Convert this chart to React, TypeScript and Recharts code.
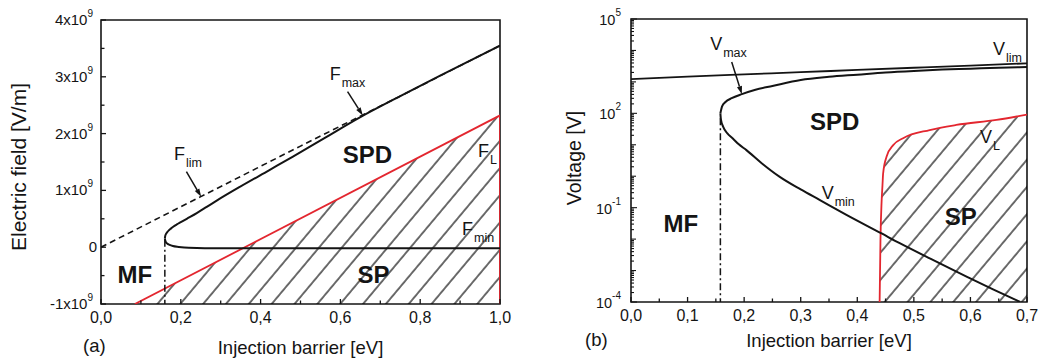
import React from 'react';
import {
  ComposedChart,
  Line,
  Area,
  XAxis,
  YAxis,
  ReferenceArea,
  ReferenceLine,
  ReferenceDot,
} from 'recharts';

const FONT = '"Liberation Sans", Arial, Helvetica, sans-serif';
const INK = '#141414';
const RED = '#e3262f';

// ---- (a) electric field [V/m] vs injection barrier [eV]
const xTicksA = [0, 0.1, 0.2, 0.3, 0.4, 0.5, 0.6, 0.7, 0.8, 0.9, 1.0];
const yTicksA = [-1e9, -0.5e9, 0, 0.5e9, 1e9, 1.5e9, 2e9, 2.5e9, 3e9, 3.5e9, 4e9];

const fLimX = [0, 0.25, 0.5, 0.75, 1.0];
const fLimY = [0, 0.89e9, 1.78e9, 2.66e9, 3.55e9];

const fMaxX = [0.16, 0.161, 0.163, 0.166, 0.17, 0.175, 0.181, 0.19, 0.2, 0.215, 0.24, 0.265, 0.29, 0.35, 0.42, 0.48, 0.56, 0.65, 0.75, 0.85, 1.0];
const fMaxY = [0.15e9, 0.2e9, 0.235e9, 0.265e9, 0.297e9, 0.327e9, 0.36e9, 0.4e9, 0.44e9, 0.5e9, 0.6e9, 0.71e9, 0.82e9, 1.07e9, 1.35e9, 1.59e9, 1.92e9, 2.29e9, 2.66e9, 3.02e9, 3.55e9];

const fMinX = [0.16, 0.162, 0.166, 0.172, 0.18, 0.195, 0.22, 0.3, 0.5, 0.7, 1.0];
const fMinY = [0.15e9, 0.1e9, 0.065e9, 0.04e9, 0.02e9, 0.005e9, -0.01e9, -0.02e9, -0.02e9, -0.02e9, -0.02e9];

const fLX = [0.085, 1.0];
const fLY = [-1e9, 2.32e9];
const fLEdgeX = [1.0, 1.0];
const fLEdgeY = [2.32e9, -1e9];

const mfEdgeAX = [0.16, 0.16];
const mfEdgeAY = [0.13e9, -1e9];

// ---- (b) voltage [V] vs injection barrier [eV], log axis
const xTicksB = [0, 0.05, 0.1, 0.15, 0.2, 0.25, 0.3, 0.35, 0.4, 0.45, 0.5, 0.55, 0.6, 0.65, 0.7];
const labelDecadesB = [-4, -1, 2, 5];

const vLimX = [0, 0.1, 0.2, 0.3, 0.4, 0.5, 0.6, 0.7];
const vLimY = [1230, 1480, 1740, 2040, 2400, 2820, 3310, 3890];

const vMaxX = [0.158, 0.161, 0.167, 0.178, 0.196, 0.22, 0.25, 0.3, 0.35, 0.4, 0.45, 0.5, 0.55, 0.6, 0.65, 0.7];
const vMaxY = [100, 166, 229, 302, 407, 562, 741, 1148, 1445, 1698, 1995, 2239, 2455, 2630, 2818, 2951];

const vMinX = [0.158, 0.159, 0.163, 0.17, 0.18, 0.19, 0.204, 0.23, 0.263, 0.3, 0.334, 0.38, 0.443, 0.475, 0.53, 0.594, 0.64, 0.682, 0.688];
const vMinY = [100, 63.1, 37.2, 23.4, 15.8, 10.5, 6.76, 2.69, 0.955, 0.38, 0.174, 0.0603, 0.0151, 0.00741, 0.00234, 0.000631, 0.000251, 0.000112, 0.0001];

const vLX = [0.4395, 0.441, 0.443, 0.4445, 0.4457, 0.4517, 0.4635, 0.481, 0.528, 0.575, 0.646, 0.7];
const vLY = [0.0001, 0.01, 0.158, 0.501, 1.23, 4.17, 9.77, 16.2, 29.5, 42.7, 61.7, 91.2];

const mfEdgeBX = [0.158, 0.158];
const mfEdgeBY = [70, 0.0001];

const pts = (xs: number[], ys: number[]) => xs.map((x, i) => ({ x, y: ys[i] }));

const yTicksB: number[] = [];
for (let k = -4; k < 5; k++) for (let m = 1; m < 10; m++) yTicksB.push(m * Math.pow(10, k));
yTicksB.push(1e5);

// annotations
const subLabelsA = [
  { x: 0.183, y: 1.54e9, main: 'F', sub: 'lim' },
  { x: 0.573, y: 2.95e9, main: 'F', sub: 'max' },
  { x: 0.945, y: 1.59e9, main: 'F', sub: 'L' },
  { x: 0.905, y: 0.22e9, main: 'F', sub: 'min' },
];
const regionsA = [
  { x: 0.668, y: 1.49e9, text: 'SPD' },
  { x: 0.683, y: -0.63e9, text: 'SP' },
  { x: 0.085, y: -0.63e9, text: 'MF' },
];
const arrowsA = [
  { x1: 0.214, y1: 1.33e9, x2: 0.251, y2: 0.89e9 },
  { x1: 0.618, y1: 2.74e9, x2: 0.656, y2: 2.32e9 },
];

const subLabelsB = [
  { x: 0.14, y: 10200, main: 'V', sub: 'max' },
  { x: 0.64, y: 7160, main: 'V', sub: 'lim' },
  { x: 0.617, y: 11.4, main: 'V', sub: 'L' },
  { x: 0.337, y: 0.19, main: 'V', sub: 'min' },
];
const regionsB = [
  { x: 0.36, y: 29.5, text: 'SPD' },
  { x: 0.583, y: 0.028, text: 'SP' },
  { x: 0.088, y: 0.017, text: 'MF' },
];
const arrowsB = [{ x1: 0.178, y1: 4270, x2: 0.196, y2: 407 }];

const commaFmt = (v: number) => v.toFixed(1).replace('.', ',');

function XTick(props: any) {
  const { x = 0, y = 0, payload, isMajor } = props;
  const v = payload?.value ?? 0;
  const major = isMajor(v);
  return (
    <g>
      <line x1={x} x2={x} y1={y} y2={y - (major ? 5 : 3.5)} stroke={INK} strokeWidth={1.3} />
      {major && (
        <text x={x} y={y + 19} textAnchor="middle" fontSize={16} fontFamily={FONT} fill={INK}>
          {commaFmt(v)}
        </text>
      )}
    </g>
  );
}

function YTickA(props: any) {
  const { x = 0, y = 0, payload } = props;
  const v = payload?.value ?? 0;
  const n = v / 1e9;
  const major = Math.abs(n - Math.round(n)) < 1e-6;
  return (
    <g>
      <line x1={x} x2={x + (major ? 5 : 3.5)} y1={y} y2={y} stroke={INK} strokeWidth={1.3} />
      {major && (
        <text x={n === 0 ? x - 4 : x - 8} y={y + 5} textAnchor="end" fontSize={15} fontFamily={FONT} fill={INK}>
          {n === 0 ? '0' : `${Math.round(n)}x10`}
          {n !== 0 && (
            <tspan fontSize={10} dy={-8}>
              9
            </tspan>
          )}
        </text>
      )}
    </g>
  );
}

function YTickB(props: any) {
  const { x = 0, y = 0, payload } = props;
  const v = payload?.value ?? 1;
  const lg = Math.log10(v);
  const decade = Math.abs(lg - Math.round(lg)) < 1e-6;
  const labelled = decade && labelDecadesB.includes(Math.round(lg));
  const len = labelled ? 6 : decade ? 5 : 3;
  return (
    <g>
      <line x1={x} x2={x + len} y1={y} y2={y} stroke={INK} strokeWidth={1.1} />
      {labelled && (
        <text x={x - 10} y={y + 6} textAnchor="end" fontSize={14.5} fontFamily={FONT} fill={INK}>
          10
          <tspan fontSize={10} dy={-9}>
            {Math.round(lg)}
          </tspan>
        </text>
      )}
    </g>
  );
}

function SubText({ cx, cy, main, sub }: any) {
  return (
    <text x={cx} y={cy} fontFamily={FONT} fontSize={18} fill={INK}>
      {main}
      <tspan fontSize={12.5} dx={1} dy={7}>
        {sub}
      </tspan>
    </text>
  );
}

function RegionText({ cx, cy, text }: any) {
  return (
    <text x={cx} y={cy} textAnchor="middle" fontFamily={FONT} fontSize={24} fontWeight="bold" fill={INK}>
      {text}
    </text>
  );
}

function ArrowShape(p: any) {
  const { x1, y1, x2, y2 } = p;
  const ang = Math.atan2(y2 - y1, x2 - x1);
  const L = 8;
  const W = 2.6;
  const bx = x2 - L * Math.cos(ang);
  const by = y2 - L * Math.sin(ang);
  const px = -Math.sin(ang) * W;
  const py = Math.cos(ang) * W;
  return (
    <g>
      <line x1={x1} y1={y1} x2={bx} y2={by} stroke={INK} strokeWidth={1.5} />
      <polygon points={`${x2},${y2} ${bx + px},${by + py} ${bx - px},${by - py}`} fill={INK} />
    </g>
  );
}

function Hatch({ id }: { id: string }) {
  return (
    <defs>
      <pattern id={id} patternUnits="userSpaceOnUse" width={17.5} height={20} patternTransform="rotate(40)">
        <line x1={1} y1={0} x2={1} y2={20} stroke="#000" strokeWidth={1.15} />
      </pattern>
    </defs>
  );
}

const lineProps = { dataKey: 'y', dot: false, activeDot: false, isAnimationActive: false } as const;

function PanelA() {
  return (
    <ComposedChart width={520} height={360} margin={{ top: 20, right: 20, bottom: 0, left: 0 }}>
      <Hatch id="hatchA" />
      <XAxis
        type="number"
        dataKey="x"
        domain={[0, 1]}
        ticks={xTicksA}
        interval={0}
        allowDataOverflow
        axisLine={false}
        tickLine={false}
        tickSize={0}
        tickMargin={0}
        height={56}
        tick={(p: any) => <XTick {...p} isMajor={(v: number) => Math.round(v * 10) % 2 === 0} />}
        label={(p: any) => {
          const vb = p.viewBox || { x: 101, y: 304, width: 399 };
          return (
            <g fontFamily={FONT} fill={INK}>
              <text x={vb.x - 18} y={vb.y + 48} fontSize={18.5}>
                (a)
              </text>
              <text x={vb.x + vb.width / 2} y={vb.y + 50} fontSize={18.5} textAnchor="middle">
                Injection barrier [eV]
              </text>
            </g>
          );
        }}
      />
      <YAxis
        type="number"
        dataKey="y"
        domain={[-1e9, 4e9]}
        ticks={yTicksA}
        interval={0}
        allowDataOverflow
        axisLine={false}
        tickLine={false}
        tickSize={0}
        tickMargin={0}
        width={101}
        tick={(p: any) => <YTickA {...p} />}
        label={(p: any) => {
          const vb = p.viewBox || { x: 0, y: 20, height: 284 };
          const cx = vb.x + 26;
          const cy = vb.y + vb.height / 2 + 5;
          return (
            <text x={cx} y={cy} transform={`rotate(-90 ${cx} ${cy})`} textAnchor="middle" fontSize={21} fontFamily={FONT} fill={INK}>
              Electric field [V/m]
            </text>
          );
        }}
      />
      <ReferenceArea x1={0} x2={1} y1={-1e9} y2={4e9} fill="none" stroke={INK} strokeWidth={1.6} />
      <Area
        data={pts(fLX, fLY)}
        dataKey="y"
        type="linear"
        baseValue={-1e9}
        fill="url(#hatchA)"
        fillOpacity={1}
        stroke={RED}
        strokeWidth={1.8}
        dot={false}
        activeDot={false}
        isAnimationActive={false}
      />
      <Line {...lineProps} data={pts(fLEdgeX, fLEdgeY)} type="linear" stroke={RED} strokeWidth={1.8} />
      <Line {...lineProps} data={pts(fLimX, fLimY)} type="linear" stroke={INK} strokeWidth={1.6} strokeDasharray="6 4" />
      <Line {...lineProps} data={pts(fMaxX, fMaxY)} type="monotone" stroke={INK} strokeWidth={2} />
      <Line {...lineProps} data={pts(fMinX, fMinY)} type="monotone" stroke={INK} strokeWidth={2} />
      <Line {...lineProps} data={pts(mfEdgeAX, mfEdgeAY)} type="linear" stroke={INK} strokeWidth={1.5} strokeDasharray="7 3 2 3" />
      {arrowsA.map((a, i) => (
        <ReferenceLine key={`aa${i}`} segment={[{ x: a.x1, y: a.y1 }, { x: a.x2, y: a.y2 }]} shape={(p: any) => <ArrowShape {...p} />} />
      ))}
      {subLabelsA.map((s, i) => (
        <ReferenceDot key={`sa${i}`} x={s.x} y={s.y} r={0} shape={(p: any) => <SubText cx={p.cx} cy={p.cy} main={s.main} sub={s.sub} />} />
      ))}
      {regionsA.map((s, i) => (
        <ReferenceDot key={`ra${i}`} x={s.x} y={s.y} r={0} shape={(p: any) => <RegionText cx={p.cx} cy={p.cy} text={s.text} />} />
      ))}
    </ComposedChart>
  );
}

function PanelB() {
  return (
    <ComposedChart width={521} height={360} margin={{ top: 19, right: 14, bottom: 0, left: 0 }}>
      <Hatch id="hatchB" />
      <XAxis
        type="number"
        dataKey="x"
        domain={[0, 0.7]}
        ticks={xTicksB}
        interval={0}
        allowDataOverflow
        axisLine={false}
        tickLine={false}
        tickSize={0}
        tickMargin={0}
        height={58}
        tick={(p: any) => <XTick {...p} isMajor={(v: number) => Math.round(v * 100) % 10 === 0} />}
        label={(p: any) => {
          const vb = p.viewBox || { x: 111, y: 302, width: 396 };
          return (
            <g fontFamily={FONT} fill={INK}>
              <text x={vb.x - 46} y={vb.y + 44} fontSize={18.5}>
                (b)
              </text>
              <text x={vb.x + vb.width / 2} y={vb.y + 45} fontSize={18.5} textAnchor="middle">
                Injection barrier [eV]
              </text>
            </g>
          );
        }}
      />
      <YAxis
        type="number"
        dataKey="y"
        scale="log"
        domain={[1e-4, 1e5]}
        ticks={yTicksB}
        interval={0}
        allowDataOverflow
        axisLine={false}
        tickLine={false}
        tickSize={0}
        tickMargin={0}
        width={111}
        tick={(p: any) => <YTickB {...p} />}
        label={(p: any) => {
          const vb = p.viewBox || { x: 0, y: 19, height: 283 };
          const cx = vb.x + 61;
          const cy = vb.y + 139;
          return (
            <text x={cx} y={cy} transform={`rotate(-90 ${cx} ${cy})`} textAnchor="middle" fontSize={19.5} fontFamily={FONT} fill={INK}>
              Voltage [V]
            </text>
          );
        }}
      />
      <ReferenceArea x1={0} x2={0.7} y1={1e-4} y2={1e5} fill="none" stroke={INK} strokeWidth={1.6} />
      <Area
        data={pts(vLX, vLY)}
        dataKey="y"
        type="monotone"
        baseValue={1e-4}
        fill="url(#hatchB)"
        fillOpacity={1}
        stroke={RED}
        strokeWidth={1.8}
        dot={false}
        activeDot={false}
        isAnimationActive={false}
      />
      <Line {...lineProps} data={pts(vLimX, vLimY)} type="monotone" stroke={INK} strokeWidth={1.8} />
      <Line {...lineProps} data={pts(vMaxX, vMaxY)} type="monotone" stroke={INK} strokeWidth={2} />
      <Line {...lineProps} data={pts(vMinX, vMinY)} type="monotone" stroke={INK} strokeWidth={2} />
      <Line {...lineProps} data={pts(mfEdgeBX, mfEdgeBY)} type="linear" stroke={INK} strokeWidth={1.5} strokeDasharray="7 3 2 3" />
      {arrowsB.map((a, i) => (
        <ReferenceLine key={`ab${i}`} segment={[{ x: a.x1, y: a.y1 }, { x: a.x2, y: a.y2 }]} shape={(p: any) => <ArrowShape {...p} />} />
      ))}
      {subLabelsB.map((s, i) => (
        <ReferenceDot key={`sb${i}`} x={s.x} y={s.y} r={0} shape={(p: any) => <SubText cx={p.cx} cy={p.cy} main={s.main} sub={s.sub} />} />
      ))}
      {regionsB.map((s, i) => (
        <ReferenceDot key={`rb${i}`} x={s.x} y={s.y} r={0} shape={(p: any) => <RegionText cx={p.cx} cy={p.cy} text={s.text} />} />
      ))}
    </ComposedChart>
  );
}

export default function App() {
  return (
    <div style={{ position: 'fixed', left: 0, top: 0, width: 1041, height: 360, background: '#fff', fontFamily: FONT }}>
      <div style={{ position: 'absolute', left: 0, top: 0 }}>
        <PanelA />
      </div>
      <div style={{ position: 'absolute', left: 520, top: 0 }}>
        <PanelB />
      </div>
    </div>
  );
}
